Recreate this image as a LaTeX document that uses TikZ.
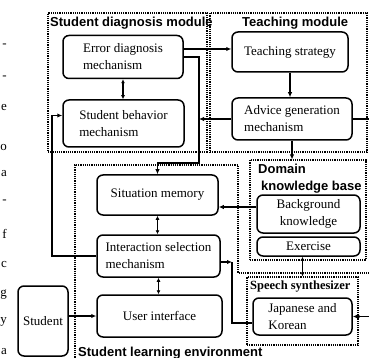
\documentclass[tikz,border=0pt]{standalone}
\usepackage{fontspec}
\setmainfont{Liberation Serif}
\setsansfont{Liberation Sans}
\usetikzlibrary{arrows.meta}

\tikzset{
	mech/.style = {draw, line width=1.5pt, rounded corners=6pt, inner sep=2pt,
		font=\fontsize{13}{17}\selectfont},
	module/.style = {draw, densely dotted, line width=1.2pt, inner sep=0pt},
	envline/.style = {densely dotted, line width=1.2pt},
	modlabel/.style = {font=\sffamily\bfseries\fontsize{13}{15}\selectfont,
		inner sep=0pt, anchor=base west, align=left},
	link/.style = {line width=1.3pt},
	arr/.style = {link, -{Latex[length=5pt,width=4.5pt]}},
	dbl/.style = {link, {Latex[length=4pt,width=4pt]}-{Latex[length=4pt,width=4pt]}},
	port/.style = {circle, fill, inner sep=0pt, minimum size=3.5pt},
	frag/.style = {font=\fontsize{13}{15}\selectfont, inner sep=0pt, anchor=base east}
}

\begin{document}
\begin{tikzpicture}[x=1pt, y=-1pt]
	\useasboundingbox (0,0) rectangle (369,358);

	% modules
	\node[module, minimum width=159pt, minimum height=139pt] (diagmod) at (127.5,82.5) {};
	\node[module, minimum width=157pt, minimum height=139pt] (teachmod) at (288.5,82.5) {};
	\node[module, minimum width=116pt, minimum height=100pt] (domainmod) at (308,210) {};
	\node[module, minimum width=111pt, minimum height=68pt] (speechmod) at (302.5,311) {};
	\draw[envline] (75,362) -- (75,165) -- (238,165) -- (238,273) -- (372,273);

	\node[modlabel] at (50,27) {Student diagnosis module};
	\node[modlabel] at (242,27) {Teaching module};
	\node[modlabel] at (258,174) {Domain};
	\node[modlabel] at (261,190) {knowledge base};
	\node[modlabel, font=\bfseries\fontsize{12.5}{15}\selectfont] at (250,289) {Speech synthesizer};
	\node[modlabel] at (78,356.5) {Student learning environment};

	% mechanisms
	\node[mech, align=left, minimum width=120pt, minimum height=43pt] (errdiag) at (123,57) {Error diagnosis\\mechanism};
	\node[mech, align=left, minimum width=121pt, minimum height=47pt] (behav) at (123.5,123.5) {Student behavior\\mechanism};
	\node[mech, minimum width=116pt, minimum height=40pt] (teachst) at (290,52) {Teaching strategy};
	\node[mech, align=left, minimum width=120pt, minimum height=42pt] (advice) at (292,119) {Advice generation\\mechanism};
	\node[mech, minimum width=121pt, minimum height=40pt] (situation) at (157.5,195) {Situation memory};
	\node[mech, align=left, minimum width=123pt, minimum height=42pt] (inter) at (158.5,256) {Interaction selection\\mechanism};
	\node[mech, minimum width=125pt, minimum height=42pt] (ui) at (159.5,316) {User interface};
	\node[mech, minimum width=50pt, minimum height=70pt] (student) at (43,321) {Student};
	\node[mech, align=center, minimum width=103pt, minimum height=38pt] (backgr) at (308.5,214) {Background\\knowledge};
	\node[mech, minimum width=103pt, minimum height=19pt, inner sep=1pt] (exercise) at (308.5,246.5) {Exercise};
	\node[mech, align=left, minimum width=99pt, minimum height=37pt] (japkor) at (302.5,316.5) {Japanese and\\Korean};

	% bends
	\coordinate (edout) at ([yshift=8pt]errdiag.east);
	\coordinate (bendA) at (199,163);
	\coordinate (bgout) at ([yshift=7pt]backgr.west);
	\coordinate (lft) at (52,115.5);
	\coordinate (cj) at (232,262);
	\coordinate (rgt) at (371,316.5);

	% connectors
	\draw[dbl] (errdiag.south) -- (errdiag.south |- behav.north);
	\draw[arr] (edout) -- (edout -| teachst.west);
	\draw[arr] (teachst.south) -- (teachst.south |- advice.north);
	\draw[arr] (errdiag.east) -| (bendA) -| (situation.north);
	\draw[arr] (advice.west) -- (advice.west -| bendA);
	\draw[arr] (advice.south) -- (advice.south |- domainmod.north);
	\draw[arr] (advice.east) -| (rgt) -- (japkor.east);
	\draw[arr] (bgout) -- (bgout -| situation.east);
	\draw[dbl] (situation.south) -- (situation.south |- inter.north);
	\draw[dbl] (inter.south) -- (inter.south |- ui.north);
	\draw[arr] (inter.west) -| (lft) -- (lft -| behav.west);
	\draw[arr] ([yshift=-6pt]inter.east) -- (cj);
	\draw[link] (cj) |- ([yshift=-6.5pt]japkor.west);
	\draw[arr] (student.east |- ui.west) -- (ui.west);
	\draw[dbl] ([xshift=-6pt]exercise.south) -- ([xshift=-6pt]exercise.south |- speechmod.north);
	\node[port] at (75,316) {};
	\node[port] at (speechmod.east |- japkor.east) {};

	% text of the next column
	\foreach \ch/\yy in {-/48, -/80, e/111, o/151, a/177, -/203, f/238, c/267, g/296, y/323, a/354}
		\node[frag] at (7,\yy) {\ch};
\end{tikzpicture}
\end{document}
